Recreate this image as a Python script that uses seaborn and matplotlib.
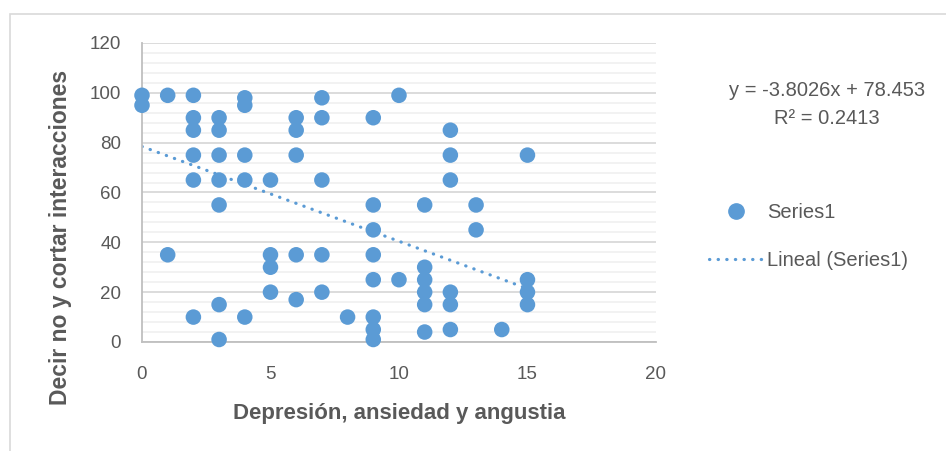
import numpy as np
import pandas as pd
import matplotlib.pyplot as plt
import seaborn as sns
from matplotlib.lines import Line2D
from matplotlib.ticker import MultipleLocator

# data
depresion = [0, 0,
             1, 1,
             2, 2, 2, 2, 2, 2,
             3, 3, 3, 3, 3, 3, 3,
             4, 4, 4, 4, 4,
             5, 5, 5, 5,
             6, 6, 6, 6, 6,
             7, 7, 7, 7, 7,
             8,
             9, 9, 9, 9, 9, 9, 9, 9,
             10, 10,
             11, 11, 11, 11, 11, 11,
             12, 12, 12, 12, 12, 12,
             13, 13,
             14,
             15, 15, 15, 15]
decir_no = [99, 95,
            99, 35,
            99, 90, 85, 75, 65, 10,
            90, 85, 75, 65, 55, 15, 1,
            98, 95, 75, 65, 10,
            65, 35, 30, 20,
            90, 85, 75, 35, 17,
            98, 90, 65, 35, 20,
            10,
            90, 55, 45, 35, 25, 10, 5, 1,
            99, 25,
            55, 30, 25, 20, 15, 4,
            85, 75, 65, 20, 15, 5,
            55, 45,
            5,
            75, 25, 20, 15]

# trendline as printed on the chart
pendiente = -3.8026
intercepto = 78.453
r2 = 0.2413

df = pd.DataFrame({'x': depresion, 'y': decir_no})

azul = '#5B9BD5'
gris = '#595959'

sns.set_style('white')
plt.rcParams['font.family'] = ['Liberation Sans', 'DejaVu Sans']

fig = plt.figure(figsize=(9.46, 4.51), dpi=100)
ax = fig.add_axes([0.1501, 0.2417, 0.5433, 0.663])

# minor / major horizontal gridlines
ax.yaxis.set_major_locator(MultipleLocator(20))
ax.yaxis.set_minor_locator(MultipleLocator(4))
ax.grid(axis='y', which='minor', color='#f0f0f0', lw=1.2, zorder=0)
ax.grid(axis='y', which='major', color='#d9d9d9', lw=1.3, zorder=0)
ax.set_axisbelow(True)

# trendline
xs = np.array([df['x'].min(), df['x'].max()])
ax.plot(xs, pendiente * xs + intercepto, color=azul, lw=2.3,
        linestyle=(0, (0.1, 2.6)), dash_capstyle='round', zorder=2)

sns.scatterplot(data=df, x='x', y='y', ax=ax, color=azul, s=125,
                edgecolor='none', zorder=3, legend=False, clip_on=False)

ax.set_xlim(0, 20)
ax.set_ylim(0, 120)
ax.set_xticks([0, 5, 10, 15, 20])

for s in ['top', 'right']:
    ax.spines[s].set_visible(False)
for s in ['left', 'bottom']:
    ax.spines[s].set_color('#bfbfbf')
    ax.spines[s].set_linewidth(1.3)

ax.tick_params(axis='both', which='major', labelsize=13.5, labelcolor=gris,
               color='#bfbfbf', length=5, width=1.3, direction='out')
ax.tick_params(axis='y', which='minor', length=0)
ax.tick_params(axis='x', pad=12)
ax.tick_params(axis='y', pad=10)

ax.set_xlabel('Depresión, ansiedad y angustia', fontsize=16,
              fontweight='bold', color=gris, labelpad=15)
ax.set_ylabel('Decir no y cortar interacciones', fontsize=16.5,
              fontweight='bold', color=gris)
ax.yaxis.set_label_coords(-0.137, 0.35)

# equation
fig.text(0.874, 0.80, f'y = {pendiente}x + {intercepto}', ha='center',
         va='center', fontsize=14.5, color=gris)
fig.text(0.874, 0.738, f'R² = {r2}', ha='center', va='center',
         fontsize=14.5, color=gris)

# legend
handles = [Line2D([], [], marker='o', color=azul, linestyle='none',
                  markersize=11),
           Line2D([], [], color=azul, lw=2.3, linestyle=(0, (0.1, 2.6)),
                  dash_capstyle='round')]
fig.legend(handles, ['Series1', 'Lineal (Series1)'], loc='center left',
           bbox_to_anchor=(0.73, 0.475), frameon=False, fontsize=14.5,
           labelcolor=gris, handlelength=2.75, labelspacing=1.45,
           handletextpad=0.15)

# outer chart border
fig.patches.append(plt.Rectangle((0.011, -0.05), 1.2, 1.02,
                                 transform=fig.transFigure, fill=False,
                                 edgecolor='#d9d9d9', lw=1.2))

fig.savefig('out.png', dpi=100)
